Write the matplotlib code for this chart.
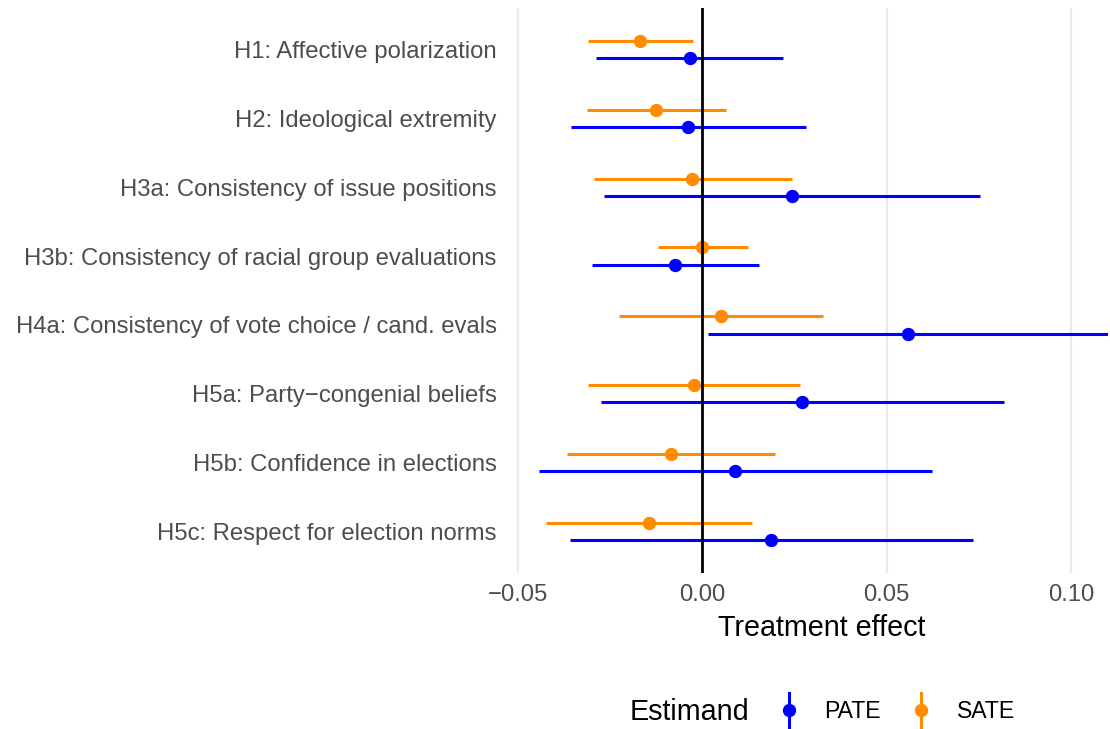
import matplotlib
matplotlib.use('Agg')
import matplotlib.pyplot as plt
from matplotlib.lines import Line2D
from matplotlib.legend_handler import HandlerBase
import numpy as np

plt.rcParams['font.family'] = ['Liberation Sans', 'DejaVu Sans']

outcomes = [
    "H1: Affective polarization",
    "H2: Ideological extremity",
    "H3a: Consistency of issue positions",
    "H3b: Consistency of racial group evaluations",
    "H4a: Consistency of vote choice / cand. evals",
    "H5a: Party\u2212congenial beliefs",
    "H5b: Confidence in elections",
    "H5c: Respect for election norms",
]

sate_est = [-0.0167, -0.0124, -0.0026, 0.0001, 0.0052, -0.0023, -0.0085, -0.0143]
sate_lo = [-0.0308, -0.0313, -0.0294, -0.0120, -0.0224, -0.0310, -0.0367, -0.0423]
sate_hi = [-0.0025, 0.0065, 0.0243, 0.0124, 0.0327, 0.0265, 0.0198, 0.0136]

pate_est = [-0.0034, -0.0038, 0.0243, -0.0073, 0.0558, 0.0271, 0.0089, 0.0188]
pate_lo = [-0.0287, -0.0354, -0.0267, -0.0299, 0.0015, -0.0275, -0.0443, -0.0357]
pate_hi = [0.0218, 0.0282, 0.0753, 0.0154, 0.1150, 0.0818, 0.0622, 0.0733]

xticks = [-0.05, 0.00, 0.05, 0.10]
xticklabels = ["\u22120.05", "0.00", "0.05", "0.10"]

C_PATE = '#0000FF'
C_SATE = '#FF8C00'

W, H = 1110, 729
fig = plt.figure(figsize=(W / 100, H / 100), dpi=100)
ax = fig.add_axes([505 / W, 1 - 573 / H, 603 / W, (573 - 8) / H])

n = len(outcomes)
ypos = np.arange(n, 0, -1).astype(float)
off = 0.125

ax.hlines(ypos + off, sate_lo, sate_hi, color=C_SATE, lw=2.2, zorder=2)
ax.plot(sate_est, ypos + off, 'o', color=C_SATE, ms=8.6, zorder=3)
ax.hlines(ypos - off, pate_lo, pate_hi, color=C_PATE, lw=2.2, zorder=2)
ax.plot(pate_est, ypos - off, 'o', color=C_PATE, ms=8.6, zorder=3)

ax.axvline(0, color='black', lw=2.0, zorder=4)

ax.set_xlim(-0.0534, 0.1100)
ax.set_ylim(0.4, n + 0.6)
ax.set_yticks(ypos)
ax.set_yticklabels(outcomes)
ax.set_xticks(xticks)
ax.set_xticklabels(xticklabels)
ax.tick_params(axis='both', length=0, labelsize=17.2, labelcolor='#4D4D4D')
ax.tick_params(axis='x', pad=8)
ax.tick_params(axis='y', pad=6)

ax.grid(axis='x', color='#EBEBEB', lw=1.6, zorder=0)
ax.grid(axis='y', visible=False)
ax.set_axisbelow(True)
for s in ax.spines.values():
    s.set_visible(False)

ax.set_xlabel("Treatment effect", fontsize=20.7, color='black')
ax.xaxis.label.set_verticalalignment('center')
ax.xaxis.set_label_coords((822 - 505) / 603, 1 - (628 - 8) / (573 - 8))


class HandlerPointRange(HandlerBase):
    def create_artists(self, legend, orig_handle, xdescent, ydescent, width, height, fontsize, trans):
        c = orig_handle.get_color()
        cx = width / 2 - xdescent
        line = Line2D([cx, cx], [-ydescent - 0.55 * height, height * 1.6 - ydescent],
                      color=c, lw=2.2, transform=trans)
        dot = Line2D([cx], [height / 2 - ydescent], marker='o', color=c, ms=8.6,
                     linestyle='none', transform=trans)
        return [line, dot]


h_pate = Line2D([], [], color=C_PATE)
h_sate = Line2D([], [], color=C_SATE)
leg = fig.legend([h_pate, h_sate], ["PATE", "SATE"],
                 handler_map={Line2D: HandlerPointRange()},
                 loc='center left', bbox_to_anchor=(775 / W, 1 - 712 / H),
                 ncol=2, frameon=False, fontsize=16.6,
                 handlelength=1.2, handletextpad=0.95, columnspacing=1.15,
                 borderaxespad=0, borderpad=0)

fig.text(630 / W, 1 - 712 / H, "Estimand", fontsize=20.7, ha='left', va='center', color='black')

fig.savefig('out.png', dpi=100)
